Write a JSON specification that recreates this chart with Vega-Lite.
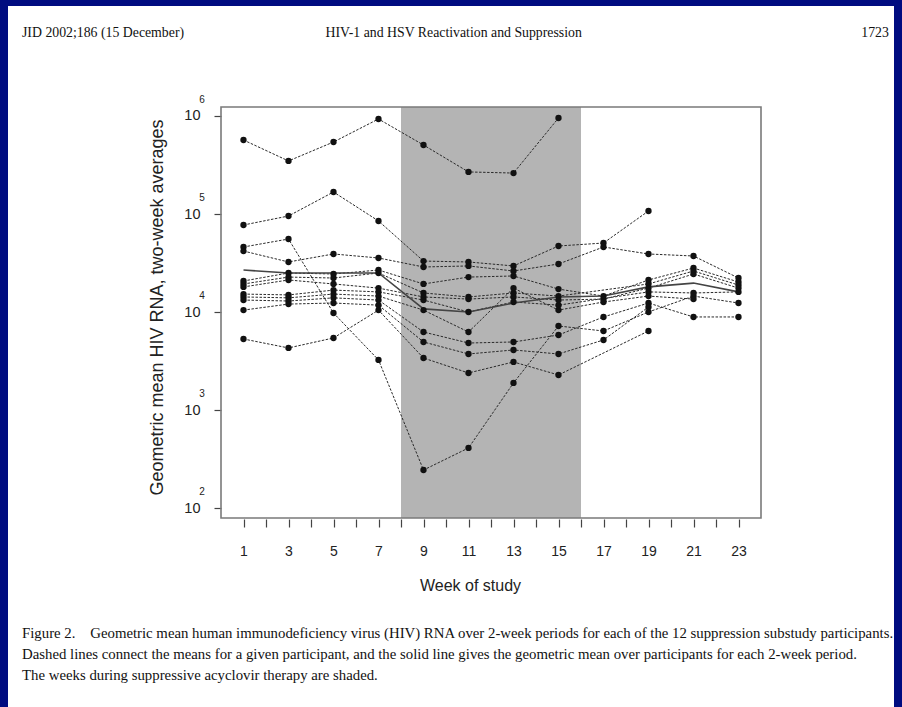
{
  "$schema": "https://vega.github.io/schema/vega-lite/v6.json",
  "width": 886,
  "height": 701,
  "autosize": {"type": "none"},
  "padding": {"left": 8, "top": 6, "right": 8, "bottom": 0},
  "background": "#000c80",
  "config": {
    "view": {"fill": "white", "stroke": null},
    "font": "Liberation Sans"
  },
  "title": {
    "text": "JID 2002;186 (15 December)\u00a0\u00a0\u00a0\u00a0\u00a0\u00a0\u00a0\u00a0\u00a0\u00a0\u00a0\u00a0\u00a0\u00a0\u00a0\u00a0\u00a0\u00a0\u00a0\u00a0\u00a0\u00a0\u00a0\u00a0\u00a0\u00a0\u00a0\u00a0\u00a0\u00a0\u00a0\u00a0\u00a0\u00a0\u00a0\u00a0\u00a0\u00a0\u00a0\u00a0\u00a0HIV-1 and HSV Reactivation and Suppression\u2003\u2003\u2003\u2003\u2003\u2003\u2003\u2003\u2003\u2003\u2003\u2003\u2003\u2003\u2003\u2003\u2003\u2003\u2003\u2003\u00a01723",
    "subtitle": [
      "Figure 2.\u00a0\u00a0\u00a0\u00a0Geometric mean human immunodeficiency virus (HIV) RNA over 2-week periods for each of the 12 suppression substudy participants.",
      "Dashed lines connect the means for a given participant, and the solid line gives the geometric mean over participants for each 2-week period.",
      "The weeks during suppressive acyclovir therapy are shaded."
    ],
    "orient": "bottom",
    "anchor": "start",
    "frame": "group",
    "offset": -681,
    "dx": 14,
    "font": "Liberation Serif",
    "fontSize": 13.8,
    "fontWeight": "normal",
    "color": "#111111",
    "subtitleFont": "Liberation Serif",
    "subtitleFontSize": 14.8,
    "subtitleColor": "#111111",
    "subtitleLineHeight": 21,
    "subtitlePadding": 586
  },
  "datasets": {
    "participants": [
      {"p": "P1", "week": 1, "v": 569000}, {"p": "P1", "week": 3, "v": 348000}, {"p": "P1", "week": 5, "v": 543000}, {"p": "P1", "week": 7, "v": 932000}, {"p": "P1", "week": 9, "v": 506000}, {"p": "P1", "week": 11, "v": 269000}, {"p": "P1", "week": 13, "v": 262000}, {"p": "P1", "week": 15, "v": 954000},
      {"p": "P2", "week": 1, "v": 77400}, {"p": "P2", "week": 3, "v": 95600}, {"p": "P2", "week": 5, "v": 168000}, {"p": "P2", "week": 7, "v": 85100}, {"p": "P2", "week": 9, "v": 33200}, {"p": "P2", "week": 11, "v": 32500}, {"p": "P2", "week": 13, "v": 29600}, {"p": "P2", "week": 15, "v": 47300}, {"p": "P2", "week": 17, "v": 50700}, {"p": "P2", "week": 19, "v": 107600},
      {"p": "P3", "week": 1, "v": 46200}, {"p": "P3", "week": 3, "v": 55700}, {"p": "P3", "week": 5, "v": 9810}, {"p": "P3", "week": 7, "v": 3260}, {"p": "P3", "week": 9, "v": 246}, {"p": "P3", "week": 11, "v": 413}, {"p": "P3", "week": 13, "v": 1900}, {"p": "P3", "week": 15, "v": 7230}, {"p": "P3", "week": 17, "v": 6430}, {"p": "P3", "week": 19, "v": 10050}, {"p": "P3", "week": 21, "v": 14600}, {"p": "P3", "week": 23, "v": 12400},
      {"p": "P4", "week": 1, "v": 42000}, {"p": "P4", "week": 3, "v": 32500}, {"p": "P4", "week": 5, "v": 39200}, {"p": "P4", "week": 7, "v": 35700}, {"p": "P4", "week": 9, "v": 28900}, {"p": "P4", "week": 11, "v": 29600}, {"p": "P4", "week": 13, "v": 26300}, {"p": "P4", "week": 15, "v": 31000}, {"p": "P4", "week": 17, "v": 46200}, {"p": "P4", "week": 19, "v": 39200}, {"p": "P4", "week": 21, "v": 37400}, {"p": "P4", "week": 23, "v": 22300},
      {"p": "P5", "week": 1, "v": 20800}, {"p": "P5", "week": 3, "v": 25100}, {"p": "P5", "week": 5, "v": 24500}, {"p": "P5", "week": 7, "v": 26900}, {"p": "P5", "week": 9, "v": 19400}, {"p": "P5", "week": 11, "v": 22800}, {"p": "P5", "week": 13, "v": 23400}, {"p": "P5", "week": 15, "v": 17200}, {"p": "P5", "week": 17, "v": 14600}, {"p": "P5", "week": 19, "v": 21300}, {"p": "P5", "week": 21, "v": 28200}, {"p": "P5", "week": 23, "v": 20300},
      {"p": "P6", "week": 1, "v": 19400}, {"p": "P6", "week": 3, "v": 22800}, {"p": "P6", "week": 5, "v": 22300}, {"p": "P6", "week": 7, "v": 25100}, {"p": "P6", "week": 9, "v": 15700}, {"p": "P6", "week": 11, "v": 14300}, {"p": "P6", "week": 13, "v": 15700}, {"p": "P6", "week": 15, "v": 14600}, {"p": "P6", "week": 19, "v": 19400}, {"p": "P6", "week": 21, "v": 26300}, {"p": "P6", "week": 23, "v": 18900},
      {"p": "P7", "week": 1, "v": 18100}, {"p": "P7", "week": 3, "v": 21300}, {"p": "P7", "week": 5, "v": 19400}, {"p": "P7", "week": 7, "v": 17600}, {"p": "P7", "week": 9, "v": 14300}, {"p": "P7", "week": 11, "v": 13600}, {"p": "P7", "week": 13, "v": 14300}, {"p": "P7", "week": 15, "v": 13300}, {"p": "P7", "week": 17, "v": 13600}, {"p": "P7", "week": 19, "v": 17600}, {"p": "P7", "week": 21, "v": 24500}, {"p": "P7", "week": 23, "v": 17600},
      {"p": "P8", "week": 1, "v": 15300}, {"p": "P8", "week": 3, "v": 15000}, {"p": "P8", "week": 5, "v": 16800}, {"p": "P8", "week": 7, "v": 16100}, {"p": "P8", "week": 9, "v": 13300}, {"p": "P8", "week": 11, "v": 10050}, {"p": "P8", "week": 13, "v": 12700}, {"p": "P8", "week": 15, "v": 11800}, {"p": "P8", "week": 19, "v": 16100}, {"p": "P8", "week": 21, "v": 15700}, {"p": "P8", "week": 23, "v": 16100},
      {"p": "P9", "week": 1, "v": 14300}, {"p": "P9", "week": 3, "v": 14000}, {"p": "P9", "week": 5, "v": 15300}, {"p": "P9", "week": 7, "v": 14600}, {"p": "P9", "week": 9, "v": 10500}, {"p": "P9", "week": 11, "v": 6280}, {"p": "P9", "week": 13, "v": 17600}, {"p": "P9", "week": 15, "v": 10500}, {"p": "P9", "week": 17, "v": 12700}, {"p": "P9", "week": 19, "v": 14600}, {"p": "P9", "week": 21, "v": 13600},
      {"p": "P10", "week": 1, "v": 13300}, {"p": "P10", "week": 3, "v": 13000}, {"p": "P10", "week": 5, "v": 14000}, {"p": "P10", "week": 7, "v": 13300}, {"p": "P10", "week": 9, "v": 6280}, {"p": "P10", "week": 11, "v": 4850}, {"p": "P10", "week": 13, "v": 4970}, {"p": "P10", "week": 15, "v": 5850}, {"p": "P10", "week": 17, "v": 8940}, {"p": "P10", "week": 19, "v": 12400}, {"p": "P10", "week": 21, "v": 8940}, {"p": "P10", "week": 23, "v": 8940},
      {"p": "P11", "week": 1, "v": 10500}, {"p": "P11", "week": 3, "v": 12100}, {"p": "P11", "week": 5, "v": 12400}, {"p": "P11", "week": 7, "v": 11800}, {"p": "P11", "week": 9, "v": 4970}, {"p": "P11", "week": 11, "v": 3750}, {"p": "P11", "week": 13, "v": 4120}, {"p": "P11", "week": 15, "v": 3750}, {"p": "P11", "week": 17, "v": 5210}, {"p": "P11", "week": 19, "v": 11300},
      {"p": "P12", "week": 1, "v": 5330}, {"p": "P12", "week": 3, "v": 4320}, {"p": "P12", "week": 5, "v": 5460}, {"p": "P12", "week": 7, "v": 10500}, {"p": "P12", "week": 9, "v": 3410}, {"p": "P12", "week": 11, "v": 2400}, {"p": "P12", "week": 13, "v": 3110}, {"p": "P12", "week": 15, "v": 2290}, {"p": "P12", "week": 19, "v": 6430}
    ],
    "mean": [
      {"week": 1, "v": 26900}, {"week": 3, "v": 25100}, {"week": 5, "v": 25100}, {"week": 7, "v": 25100}, {"week": 9, "v": 10800}, {"week": 11, "v": 10050}, {"week": 13, "v": 12400}, {"week": 15, "v": 14300}, {"week": 17, "v": 14600}, {"week": 19, "v": 18100}, {"week": 21, "v": 19800}, {"week": 23, "v": 16100}
    ],
    "therapy": [{"start": 8, "end": 16}],
    "frame": [{"x0": 0, "x1": 24, "y0": 79.8, "y1": 1235000}],
    "exponents": [
      {"v": 100, "exp": "2"}, {"v": 1000, "exp": "3"}, {"v": 10000, "exp": "4"}, {"v": 100000, "exp": "5"}, {"v": 1000000, "exp": "6"}
    ]
  },
  "layer": [
    {
      "data": {"name": "therapy"},
      "mark": {"type": "rect", "color": "#b4b4b4"},
      "encoding": {
        "x": {"field": "start", "type": "quantitative", "scale": {"domain": [0, 24], "range": [213, 753], "nice": false, "zero": false}},
        "x2": {"field": "end"},
        "y": {"datum": 1235000, "type": "quantitative", "scale": {"type": "log", "domain": [79.8, 1235000], "range": [512, 101], "nice": false, "zero": false}},
        "y2": {"datum": 79.8}
      }
    },
    {
      "data": {"name": "frame"},
      "mark": {"type": "rect", "filled": false, "color": "#7a7a7a", "strokeWidth": 1.6},
      "encoding": {
        "x": {"field": "x0", "type": "quantitative"},
        "x2": {"field": "x1"},
        "y": {"field": "y1", "type": "quantitative"},
        "y2": {"field": "y0"}
      }
    },
    {
      "data": {"name": "participants"},
      "mark": {"type": "line", "color": "#2a2a2a", "strokeWidth": 1, "strokeDash": [2.5, 1.5]},
      "encoding": {
        "x": {"field": "week", "type": "quantitative"},
        "y": {"field": "v", "type": "quantitative"},
        "detail": {"field": "p", "type": "nominal"}
      }
    },
    {
      "data": {"name": "mean"},
      "mark": {"type": "line", "color": "#444444", "strokeWidth": 1.6},
      "encoding": {
        "x": {"field": "week", "type": "quantitative"},
        "y": {"field": "v", "type": "quantitative"}
      }
    },
    {
      "data": {"name": "participants"},
      "mark": {"type": "circle", "color": "#111111", "size": 40, "opacity": 1},
      "encoding": {
        "x": {
          "field": "week", "type": "quantitative",
          "axis": {
            "orient": "bottom", "offset": -188, "domain": false, "grid": false,
            "values": [1, 2, 3, 4, 5, 6, 7, 8, 9, 10, 11, 12, 13, 14, 15, 16, 17, 18, 19, 20, 21, 22, 23],
            "labelExpr": "datum.value % 2 == 1 ? datum.label : ''",
            "tickSize": 8, "tickColor": "#444444", "tickWidth": 1.2,
            "labelFont": "Liberation Sans", "labelFontSize": 14, "labelColor": "#222222", "labelPadding": 17,
            "labelFlush": false, "labelOverlap": false,
            "title": "Week of study", "titleFont": "Liberation Sans", "titleFontSize": 16, "titleFontWeight": "normal", "titleColor": "#222222",
            "titleX": 462, "titleY": 66, "titleBaseline": "middle", "titleAlign": "center"
          }
        },
        "y": {
          "field": "v", "type": "quantitative",
          "axis": {
            "orient": "left", "offset": -213, "domain": false, "grid": false,
            "values": [100, 1000, 10000, 100000, 1000000],
            "labelExpr": "'10'",
            "tickSize": 7, "tickColor": "#444444", "tickWidth": 1.2,
            "labelFont": "Liberation Sans", "labelFontSize": 14.5, "labelColor": "#222222", "labelPadding": 14,
            "labelOverlap": false,
            "title": "Geometric mean HIV RNA, two-week averages", "titleFont": "Liberation Sans", "titleFontSize": 18, "titleFontWeight": "normal", "titleColor": "#222222",
            "titleX": -64, "titleY": 301, "titleAngle": 270, "titleBaseline": "middle", "titleAlign": "center"
          }
        }
      }
    },
    {
      "data": {"name": "exponents"},
      "mark": {"type": "text", "font": "Liberation Sans", "fontSize": 10, "color": "#222222", "dx": -19, "dy": -16, "align": "center", "baseline": "middle"},
      "encoding": {
        "x": {"datum": 0, "type": "quantitative"},
        "y": {"field": "v", "type": "quantitative"},
        "text": {"field": "exp", "type": "nominal"}
      }
    }
  ]
}
